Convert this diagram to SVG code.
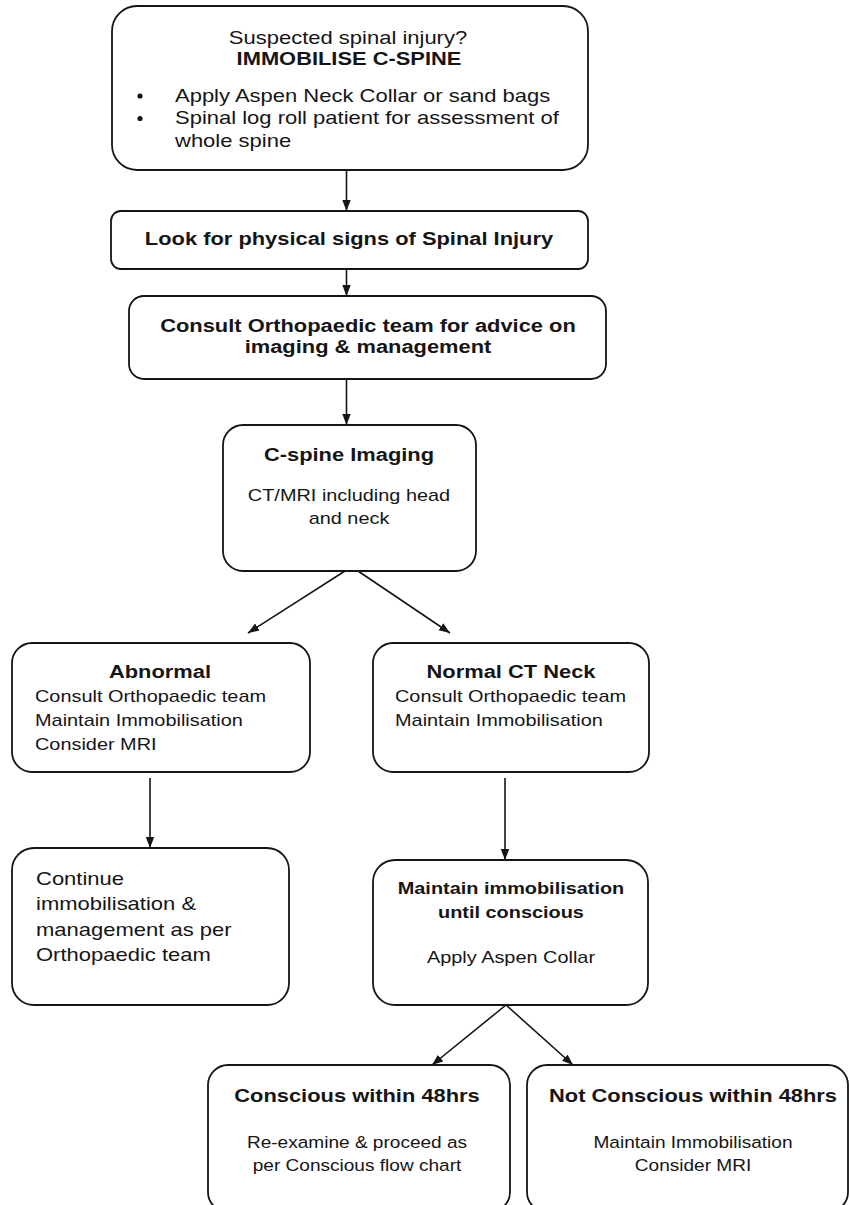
<svg xmlns="http://www.w3.org/2000/svg" width="850" height="1205" viewBox="0 0 850 1205">
<style>
  .box { fill: #ffffff; stroke: #151515; stroke-width: 1.8; }
  .conn { stroke: #151515; stroke-width: 1.6; fill: none; marker-end: url(#arr); }
  text { font-family: "Liberation Sans", Arial, sans-serif; fill: #151515; }
  .b { font-weight: bold; font-size: 18.7px; }
  .r19 { font-size: 18.8px; }
  .r17 { font-size: 17px; }
  .b17 { font-weight: bold; font-size: 17px; }
  .r16 { font-size: 16.3px; }
  .mid { text-anchor: middle; }
  .dot { fill: #151515; }
</style>
<defs>
  <marker id="arr" markerUnits="userSpaceOnUse" markerWidth="12" markerHeight="10" viewBox="0 0 12 10" refX="11" refY="5" orient="auto">
    <path d="M0,0.8 L11,5 L0,9.2 Z" fill="#151515"/>
  </marker>
</defs>
<rect width="850" height="1205" fill="#ffffff"/>

<g id="connectors">
  <line class="conn" x1="346.5" y1="170" x2="346.5" y2="211"/>
  <line class="conn" x1="346.5" y1="269" x2="346.5" y2="296"/>
  <line class="conn" x1="346.5" y1="379" x2="346.5" y2="425"/>
  <line class="conn" x1="345" y1="571" x2="248" y2="633"/>
  <line class="conn" x1="358" y1="571" x2="450" y2="633"/>
  <line class="conn" x1="150" y1="778" x2="150" y2="848"/>
  <line class="conn" x1="505" y1="778" x2="505" y2="860"/>
  <line class="conn" x1="506" y1="1005" x2="432" y2="1065"/>
  <line class="conn" x1="506" y1="1005" x2="573" y2="1065"/>
</g>

<g id="n-suspected">
  <rect class="box" x="112" y="6" width="476" height="164" rx="25" ry="25"/>
  <text class="r19" transform="translate(348,0) scale(1.17,1)"><tspan class="mid" x="0" y="44">Suspected spinal injury?</tspan></text>
  <text class="b" transform="translate(349,0) scale(1.17,1)"><tspan class="mid" x="0" y="65.5">IMMOBILISE C-SPINE</tspan></text>
  <circle class="dot" cx="140" cy="96" r="2.6"/>
  <circle class="dot" cx="140" cy="118.5" r="2.6"/>
  <text class="r19" transform="translate(175,0) scale(1.17,1)"><tspan x="0" y="102">Apply Aspen Neck Collar or sand bags</tspan><tspan x="0" y="124.5">Spinal log roll patient for assessment of</tspan><tspan x="0" y="147">whole spine</tspan></text>
</g>

<g id="n-look">
  <rect class="box" x="111" y="211" width="477" height="58" rx="10" ry="10"/>
  <text class="b" transform="translate(349,0) scale(1.17,1)"><tspan class="mid" x="0" y="245">Look for physical signs of Spinal Injury</tspan></text>
</g>

<g id="n-consult">
  <rect class="box" x="129" y="296" width="477" height="83" rx="15" ry="15"/>
  <text class="b" transform="translate(368,0) scale(1.17,1)"><tspan class="mid" x="0" y="332">Consult Orthopaedic team for advice on</tspan><tspan class="mid" x="0" y="353">imaging &amp; management</tspan></text>
</g>

<g id="n-imaging">
  <rect class="box" x="223" y="425" width="253" height="146" rx="20" ry="20"/>
  <text class="b" transform="translate(349,0) scale(1.17,1)"><tspan class="mid" x="0" y="461">C-spine Imaging</tspan></text>
  <text class="r17" transform="translate(349,0) scale(1.17,1)"><tspan class="mid" x="0" y="501.5">CT/MRI including head</tspan><tspan class="mid" x="0" y="524">and neck</tspan></text>
</g>

<g id="n-abnormal">
  <rect class="box" x="12" y="643" width="298" height="129" rx="20" ry="20"/>
  <text class="b" transform="translate(160,0) scale(1.17,1)"><tspan class="mid" x="0" y="678">Abnormal</tspan></text>
  <text class="r17" transform="translate(35,0) scale(1.17,1)"><tspan x="0" y="702.5">Consult Orthopaedic team</tspan><tspan x="0" y="726.5">Maintain Immobilisation</tspan><tspan x="0" y="750">Consider MRI</tspan></text>
</g>

<g id="n-normal">
  <rect class="box" x="373" y="643" width="276" height="129" rx="20" ry="20"/>
  <text class="b" transform="translate(511,0) scale(1.17,1)"><tspan class="mid" x="0" y="678">Normal CT Neck</tspan></text>
  <text class="r17" transform="translate(395,0) scale(1.17,1)"><tspan x="0" y="702">Consult Orthopaedic team</tspan><tspan x="0" y="726">Maintain Immobilisation</tspan></text>
</g>

<g id="n-continue">
  <rect class="box" x="12" y="848" width="277" height="157" rx="22" ry="22"/>
  <text class="r19" transform="translate(36,0) scale(1.17,1)"><tspan x="0" y="885">Continue</tspan><tspan x="0" y="910">immobilisation &amp;</tspan><tspan x="0" y="936">management as per</tspan><tspan x="0" y="961.5">Orthopaedic team</tspan></text>
</g>

<g id="n-maintain">
  <rect class="box" x="373" y="860" width="275" height="145" rx="22" ry="22"/>
  <text class="b17" transform="translate(511,0) scale(1.17,1)"><tspan class="mid" x="0" y="894">Maintain immobilisation</tspan><tspan class="mid" x="0" y="918">until conscious</tspan></text>
  <text class="r17" transform="translate(511,0) scale(1.17,1)"><tspan class="mid" x="0" y="963">Apply Aspen Collar</tspan></text>
</g>

<g id="n-conscious">
  <rect class="box" x="208" y="1065" width="302" height="147" rx="20" ry="20"/>
  <text class="b" transform="translate(357,0) scale(1.17,1)"><tspan class="mid" x="0" y="1102">Conscious within 48hrs</tspan></text>
  <text class="r16" transform="translate(357,0) scale(1.17,1)"><tspan class="mid" x="0" y="1148">Re-examine &amp; proceed as</tspan><tspan class="mid" x="0" y="1171">per Conscious flow chart</tspan></text>
</g>

<g id="n-notconscious">
  <rect class="box" x="527" y="1065" width="321" height="147" rx="20" ry="20"/>
  <text class="b" transform="translate(693,0) scale(1.17,1)"><tspan class="mid" x="0" y="1102">Not Conscious within 48hrs</tspan></text>
  <text class="r16" transform="translate(693,0) scale(1.17,1)"><tspan class="mid" x="0" y="1148">Maintain Immobilisation</tspan><tspan class="mid" x="0" y="1171">Consider MRI</tspan></text>
</g>
</svg>
